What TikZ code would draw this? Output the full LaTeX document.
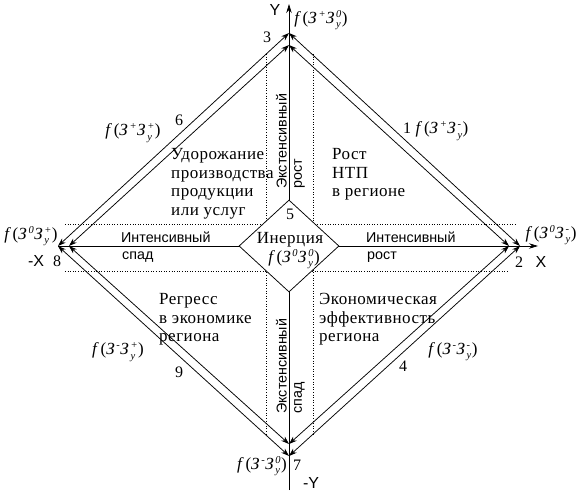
\documentclass[tikz,border=0pt]{standalone}
\usepackage{fontspec}
\setmainfont{Liberation Serif}
\newfontfamily\axfont{Liberation Sans}
\usetikzlibrary{arrows.meta,shapes.geometric}
\newcommand{\scr}[1]{\mbox{\fontsize{10.5}{10.5}\selectfont\itshape #1}}
\newcommand{\fz}[2]{\textit{f}(\textit{З}$^{\scr{#1}}$\textit{З}$^{\scr{#2}}_{\scr{у}}$)}

\begin{document}
\begin{tikzpicture}[x=1pt,y=-1pt,
  side/.style={line width=0.75pt,{Stealth[length=8pt,width=5.5pt]}-{Stealth[length=8pt,width=5.5pt]}},
  axis/.style={line width=0.75pt,-{Stealth[length=9pt,width=5.5pt]}},
  band/.style={dotted,line width=0.6pt},
  txt/.style={font=\fontsize{17}{18.7}\selectfont\addfontfeature{LetterSpace=3},align=left,anchor=north west,inner sep=0pt},
  ax/.style={font=\axfont\fontsize{14.3}{16}\selectfont,inner sep=0pt},
  axl/.style={font=\axfont\fontsize{16}{16}\selectfont,inner sep=0pt},
  num/.style={font=\fontsize{16}{16}\selectfont,inner sep=0pt},
  lab/.style={font=\fontsize{17}{17}\selectfont\addfontfeature{LetterSpace=3},inner sep=0pt},
  flab/.style={font=\fontsize{17}{17}\selectfont\addfontfeature{LetterSpace=10},inner sep=0pt}]
  \useasboundingbox (0,0) rectangle (578,497);

  \coordinate (t) at (289,33);
  \coordinate (r) at (520,246);
  \coordinate (b) at (289,456);
  \coordinate (l) at (58,246);
  \coordinate (ti) at (289,45);
  \coordinate (ri) at (509,246);
  \coordinate (bi) at (289,444);
  \coordinate (li) at (69,246);
  \coordinate (ytop) at (289,4);
  \coordinate (ybot) at (289,490);
  \coordinate (xend) at (538,246);

  \draw[band] (266,54) -- (266,435);
  \draw[band] (313,54) -- (313,435);
  \draw[band] (65,224) -- (517,224);
  \draw[band] (65,271) -- (508,271);

  \draw[axis] (ybot) -- (ytop);
  \draw[axis] (l) -- (xend);

  \draw[side] (t) -- (r);
  \draw[side] (r) -- (b);
  \draw[side] (b) -- (l);
  \draw[side] (l) -- (t);
  \draw[side] (ti) -- (ri);
  \draw[side] (ri) -- (bi);
  \draw[side] (bi) -- (li);
  \draw[side] (li) -- (ti);

  \node[diamond,draw,fill=white,line width=0.75pt,minimum width=100pt,minimum height=92pt,inner sep=0pt] (c5) at (289,246) {};
  \node[num] (n5) at (290,214) {5};
  \node[lab] (in) at (290,240) {Инерция};
  \node[flab] (f5) at (294,259) {\fz{0}{0}};

  \node[ax,anchor=south west] (il) at (121,242.5) {Интенсивный};
  \node[ax,anchor=north west] (sl) at (122,252) {спад};
  \node[ax,anchor=south west] (ir) at (366,242.5) {Интенсивный};
  \node[ax,anchor=north west] (rr) at (367,252) {рост};
  \node[ax,rotate=90,anchor=south west] (eu) at (287,189) {Экстенсивный};
  \node[ax,rotate=90,anchor=north west] (ru) at (294,189) {рост};
  \node[ax,rotate=90,anchor=south west] (ed) at (287,414) {Экстенсивный};
  \node[ax,rotate=90,anchor=north west] (sd) at (294,414) {спад};

  \node[txt] (q1) at (171,148) {Удорожание\\производства\\продукции\\или услуг};
  \node[txt] (q2) at (332,148) {Рост\\НТП\\в регионе};
  \node[txt] (q3) at (159,293) {Регресс\\в экономике\\региона};
  \node[txt] (q4) at (319,293) {Экономическая\\эффективность\\региона};

  \node[num] (n3) at (267,37) {3};
  \node[num] (n6) at (179,120) {6};
  \node[num] (n1) at (407,128) {1};
  \node[num] (n8) at (57,261) {8};
  \node[num] (n2) at (519,262) {2};
  \node[num] (n9) at (179,372) {9};
  \node[num] (n4) at (403,366) {4};
  \node[num] (n7) at (297,465) {7};

  \node[axl] (ly) at (275,10) {Y};
  \node[axl] (lx) at (541,262) {X};
  \node[axl] (lmx) at (36,261) {-X};
  \node[axl] (lmy) at (311,483) {-Y};

  \node[flab] (f3) at (321,20) {\fz{+}{0}};
  \node[flab] (f6) at (133,133) {\fz{+}{+}};
  \node[flab] (f1) at (442,131) {\fz{+}{-}};
  \node[flab] (f8) at (31,236) {\fz{0}{+}};
  \node[flab] (f2) at (551,235) {\fz{0}{-}};
  \node[flab] (f9) at (118,352) {\fz{-}{+}};
  \node[flab] (f4) at (453,352) {\fz{-}{-}};
  \node[flab] (f7) at (262,466) {\fz{-}{0}};
\end{tikzpicture}
\end{document}
